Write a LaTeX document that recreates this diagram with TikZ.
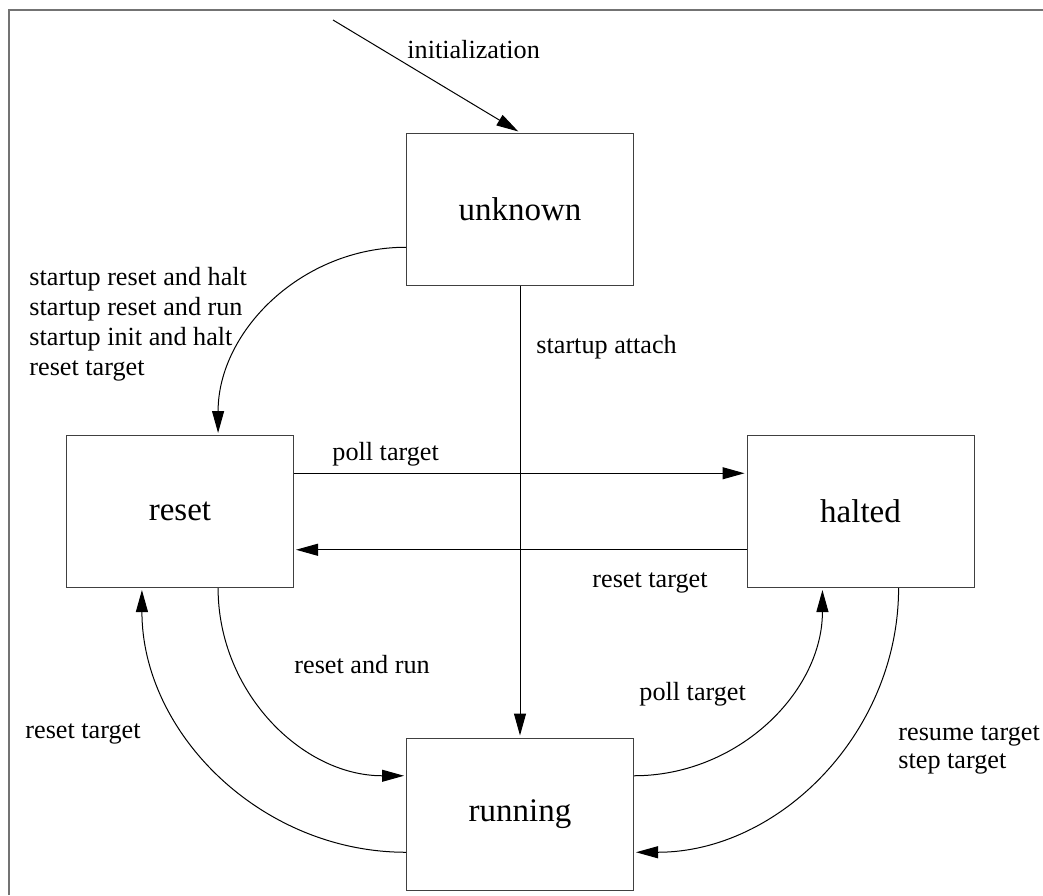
\documentclass[tikz,border=0pt]{standalone}
\usepackage{fontspec}
\setmainfont{Liberation Serif}
\usetikzlibrary{arrows.meta,calc}

\tikzset{
  statebox/.style={draw=black!75, line width=0.5pt, minimum width=113.5pt, minimum height=76pt, inner sep=0pt, font=\fontsize{16.5}{19}\selectfont},
  trans/.style={-{Triangle[length=11pt,width=6pt]}, line width=0.5pt, shorten >=1pt},
  lbl/.style={anchor=base west, inner sep=0pt, font=\fontsize{13.1}{15}\selectfont},
  lblblock/.style={anchor=north west, inner sep=0pt, align=left},
}

\begin{document}
\begin{tikzpicture}[x=0.5pt, y=-0.5pt]
    \useasboundingbox (0,0) rectangle (1043,895);
    % frame
    \draw[black!55, line width=1pt] (9,895) -- (9,10) -- (1043,10);

    \node[statebox] (unknown) at (520,209) {unknown};
    \node[statebox] (reset) at (180,511.5) {reset};
    \node[statebox] (halted) at (860.5,511.5) {halted};
    \node[statebox] (running) at (520,814) {running};

    \coordinate (init) at (333,20);
    \draw[trans] (init) -- (unknown.north);
    \node[lbl] (initlbl) at (407,58) {initialization};

    % unknown -> reset
    \draw[trans] ($(unknown.south west)!0.25!(unknown.north west)$)
        .. controls +(-104,0) and +(0,-104) .. ($(reset.north west)!0.667!(reset.north east)$);
    \node[lbl, lblblock, font=\fontsize{13.1}{15}\selectfont] (startlbl) at (29,267)
        {startup reset and halt\\startup reset and run\\startup init and halt\\reset target};

    % unknown -> running
    \draw[trans] (unknown.south) -- (running.north);
    \node[lbl] (attachlbl) at (536,353) {startup attach};

    % reset <-> halted
    \draw[trans] ($(reset.north east)!0.25!(reset.south east)$) -- ($(halted.north west)!0.25!(halted.south west)$);
    \node[lbl] (polllbl) at (332,460) {poll target};
    \draw[trans] ($(halted.north west)!0.75!(halted.south west)$) -- ($(reset.north east)!0.75!(reset.south east)$);
    \node[lbl] (resetlbl) at (592,587) {reset target};

    % reset <-> running
    \draw[trans] ($(reset.south west)!0.667!(reset.south east)$)
        .. controls +(0,104) and +(-104,0) .. ($(running.north west)!0.25!(running.south west)$);
    \node[lbl] (runlbl) at (294,673) {reset and run};
    \draw[trans] ($(running.north west)!0.75!(running.south west)$)
        .. controls +(-145,0) and +(0,145) .. ($(reset.south west)!0.333!(reset.south east)$);
    \node[lbl] (resetlbl2) at (25,738) {reset target};

    % running <-> halted
    \draw[trans] ($(running.north east)!0.25!(running.south east)$)
        .. controls +(104,0) and +(0,104) .. ($(halted.south west)!0.333!(halted.south east)$);
    \node[lbl] (polllbl2) at (639,700) {poll target};
    \draw[trans] ($(halted.south west)!0.667!(halted.south east)$)
        .. controls +(0,145) and +(145,0) .. ($(running.north east)!0.75!(running.south east)$);
    \node[lbl, lblblock, font=\fontsize{13.1}{14.2}\selectfont] (resumelbl) at (898,725)
        {resume target\\step target};
\end{tikzpicture}
\end{document}
